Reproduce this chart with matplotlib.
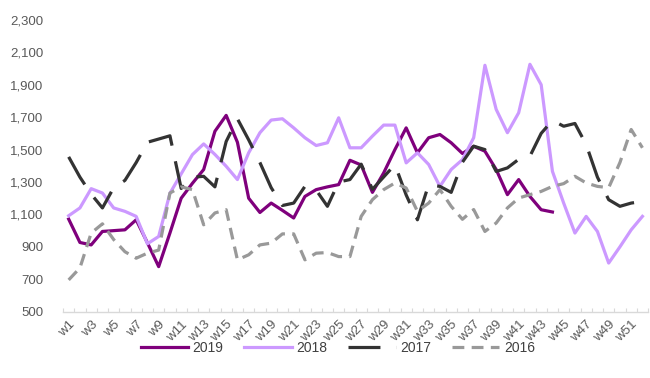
# Import required libraries
import numpy as np
import matplotlib.pyplot as plt
from matplotlib.ticker import FuncFormatter

# Use an Arial-like font for every text element
plt.rcParams['font.family'] = ['Liberation Sans', 'DejaVu Sans']

# ------------------------------------------------------------
# Weekly values per year
# ------------------------------------------------------------
weeks = ["w" + str(i) for i in range(1, 53)]

sales_2019 = [1071, 927, 912, 995, 1000, 1005, 1067, 925, 778, 985,
              1200, 1292, 1377, 1613, 1711, 1545, 1200, 1112, 1170, 1125,
              1078, 1211, 1253, 1270, 1284, 1434, 1405, 1236, 1356, 1500,
              1634, 1480, 1573, 1593, 1542, 1476, 1520, 1490, 1377, 1222,
              1315, 1211, 1129, 1115]

sales_2018 = [1092, 1140, 1259, 1232, 1140, 1119, 1088, 919, 964, 1230,
              1350, 1469, 1535, 1470, 1397, 1315, 1480, 1604, 1682, 1690,
              1634, 1573, 1525, 1542, 1696, 1511, 1511, 1583, 1651, 1651,
              1418, 1480, 1408, 1273, 1377, 1438, 1573, 2020, 1748, 1604,
              1727, 2026, 1900, 1366, 1170, 985, 1088, 995, 800, 900,
              1005, 1088]

sales_2017 = [1455, 1330, 1225, 1140, 1265, 1310, 1420, 1545, 1565, 1585,
              1260, 1330, 1335, 1270, 1550, 1690, 1560, 1420, 1265, 1155,
              1170, 1273, 1250, 1150, 1300, 1315, 1410, 1255, 1331, 1407,
              1220, 1067, 1284, 1273, 1236, 1422, 1521, 1500, 1365, 1387,
              1440, 1459, 1600, 1680, 1644, 1661, 1531, 1330, 1191, 1150,
              1170, 1180]

sales_2016 = [696, 770, 985, 1042, 945, 870, 830, 861, 880, 1232,
              1270, 1253, 1036, 1109, 1129, 820, 851, 912, 923, 980,
              980, 820, 861, 865, 840, 840, 1088, 1191, 1253, 1294,
              1263, 1119, 1170, 1253, 1150, 1070, 1130, 995, 1047, 1140,
              1201, 1222, 1242, 1273, 1290, 1335, 1294, 1273, 1265, 1420,
              1624, 1511]

# ------------------------------------------------------------
# Visualization: weekly lines for four years
# ------------------------------------------------------------
fig = plt.figure(figsize=(6.5, 3.78), dpi=100)
ax = fig.add_axes([0.097, 0.1754, 0.9, 0.772])

lw = 2.3
ax.plot(np.arange(len(sales_2019)), sales_2019, color="#7F007C", lw=lw, label="2019")
ax.plot(np.arange(len(sales_2018)), sales_2018, color="#CC99FF", lw=lw, label="2018")
ax.plot(np.arange(len(sales_2017)), sales_2017, color="#333333", lw=lw,
        dashes=(10, 5), label="2017")
ax.plot(np.arange(len(sales_2016)), sales_2016, color="#999999", lw=lw,
        dashes=(3.7, 2.3), label="2016")

# Y axis: 500 to 2,300 with thousands separator, no spine
ax.set_ylim(500, 2300)
ax.set_yticks(range(500, 2301, 200))
ax.yaxis.set_major_formatter(FuncFormatter(lambda v, p: "{:,.0f}".format(v)))
ax.tick_params(axis="y", length=0, pad=14, labelsize=9.5, labelcolor="#595959")

# X axis: labels on every second week, small ticks between categories
ax.set_xlim(-0.5, len(weeks) - 0.5)
ax.set_xticks(np.arange(0, len(weeks), 2))
ax.set_xticklabels(weeks[::2], rotation=45, ha="right", rotation_mode="anchor")
ax.set_xticks(np.arange(-0.5, len(weeks), 1), minor=True)
ax.tick_params(axis="x", which="major", length=0, pad=5, labelsize=9.5, labelcolor="#595959")
ax.tick_params(axis="x", which="minor", direction="in", length=3, width=0.8, color="#d9d9d9")

for side in ["left", "right", "top"]:
    ax.spines[side].set_visible(False)
ax.spines["bottom"].set_color("#d9d9d9")
ax.spines["bottom"].set_linewidth(1)

# Legend under the chart
fig.legend(loc="center", bbox_to_anchor=(0.52, 0.08), ncol=4, frameon=False,
           fontsize=10, handlelength=3.4, handletextpad=0.35, columnspacing=1.5,
           labelcolor="#404040")

# Save the chart
plt.savefig("out.png", dpi=100)
